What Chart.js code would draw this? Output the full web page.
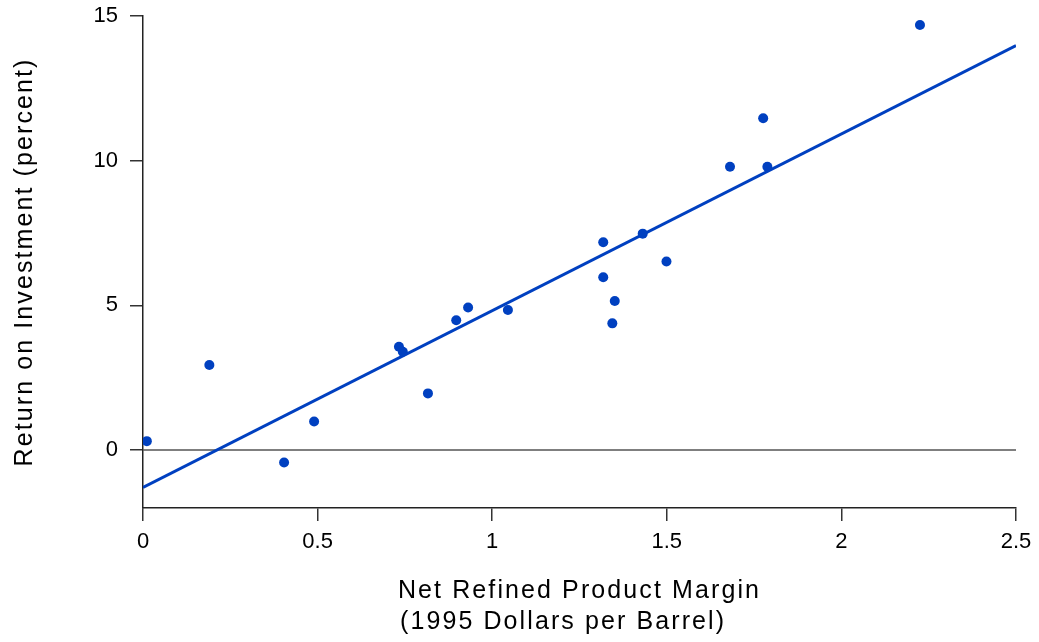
<!DOCTYPE html>
<html>
<head>
<meta charset="utf-8">
<script src="https://cdn.jsdelivr.net/npm/chart.js@4.4.1/dist/chart.umd.min.js"></script>
<style>
  html, body { margin: 0; padding: 0; background: #ffffff; }
  #wrap { width: 1039px; height: 642px; position: relative; }
</style>
</head>
<body>
<div id="wrap"><canvas id="c" width="1039" height="642"></canvas></div>
<script>
// ---- data ----
const marginX = [0.011, 0.19, 0.404, 0.49, 0.733, 0.744, 0.816, 0.897, 0.931, 1.045,
                 1.318, 1.318, 1.351, 1.344, 1.431, 1.499, 1.681, 1.776, 1.788, 2.225];
const returnY = [0.31, 2.94, -0.43, 0.99, 3.57, 3.40, 1.96, 4.49, 4.93, 4.84,
                 7.18, 5.97, 5.15, 4.38, 7.48, 6.52, 9.79, 11.47, 9.79, 14.69];
const fitX = [0, 2.5];
const fitY = [-1.29, 13.98];
const zeroX = [0, 2.5];
const zeroY = [0, 0];
const xTicks = [0, 0.5, 1, 1.5, 2, 2.5];
const yTicks = [0, 5, 10, 15];
const yTitle = 'Return on Investment (percent)';
const xTitle1 = 'Net Refined Product Margin';
const xTitle2 = '(1995 Dollars per Barrel)';

const BLUE = '#0040c0';
const FONT = '"Liberation Sans", Arial, sans-serif';

const toPts = (xs, ys) => xs.map((x, i) => ({ x: x, y: ys[i] }));

const titlesPlugin = {
  id: 'titles',
  afterDraw(chart) {
    const ctx = chart.ctx;
    const a = chart.chartArea;
    ctx.save();
    ctx.fillStyle = '#000';
    ctx.font = '25px ' + FONT;
    try { ctx.letterSpacing = '2.1px'; } catch (e) {}
    ctx.textBaseline = 'alphabetic';
    ctx.textAlign = 'left';
    const cx = (a.left + a.right) / 2;
    const w1 = ctx.measureText(xTitle1).width;
    const start = cx - w1 / 2;
    ctx.fillText(xTitle1, start, a.bottom + 90);
    ctx.fillText(xTitle2, start + 2, a.bottom + 121);
    // y title
    const cy = (a.top + a.bottom) / 2;
    const wy = ctx.measureText(yTitle).width;
    ctx.translate(32, cy);
    ctx.rotate(-Math.PI / 2);
    ctx.fillText(yTitle, -wy / 2, 0);
    ctx.restore();
  }
};

new Chart(document.getElementById('c'), {
  type: 'scatter',
  data: {
    datasets: [
      {
        label: 'data',
        data: toPts(marginX, returnY),
        backgroundColor: BLUE,
        borderColor: BLUE,
        borderWidth: 0,
        pointRadius: 5,
        order: 0
      },
      {
        type: 'line',
        label: 'fit',
        data: toPts(fitX, fitY),
        borderColor: BLUE,
        borderWidth: 3,
        pointRadius: 0,
        fill: false,
        order: 1
      },
      {
        type: 'line',
        label: 'zero',
        data: toPts(zeroX, zeroY),
        borderColor: '#555555',
        borderWidth: 1.5,
        pointRadius: 0,
        fill: false,
        order: 2
      }
    ]
  },
  options: {
    responsive: false,
    animation: false,
    events: [],
    layout: { padding: { top: 16, right: 23, left: 0, bottom: 0 } },
    plugins: { legend: { display: false }, tooltip: { enabled: false }, title: { display: false } },
    scales: {
      x: {
        type: 'linear',
        min: 0, max: 2.5,
        afterBuildTicks: (s) => { s.ticks = xTicks.map(v => ({ value: v })); },
        afterFit: (s) => { s.height = 134; s.paddingLeft = 0; s.paddingRight = 0; },
        ticks: {
          color: '#000',
          font: { family: FONT, size: 22 },
          padding: 8,
          maxRotation: 0,
          autoSkip: false,
          callback: (v) => String(v)
        },
        grid: { display: true, drawOnChartArea: false, drawTicks: true, tickLength: 13, tickColor: '#333', lineWidth: 1.5 },
        border: { display: true, color: '#222', width: 1.5 }
      },
      y: {
        type: 'linear',
        min: -2, max: 15,
        afterBuildTicks: (s) => { s.ticks = yTicks.map(v => ({ value: v })); },
        afterFit: (s) => { s.width = 143; s.paddingTop = 0; s.paddingBottom = 0; },
        ticks: {
          color: '#000',
          font: { family: FONT, size: 22 },
          padding: 12,
          autoSkip: false,
          callback: (v) => String(v)
        },
        grid: { display: true, drawOnChartArea: false, drawTicks: true, tickLength: 13, tickColor: '#333', lineWidth: 1.5 },
        border: { display: true, color: '#222', width: 1.5 }
      }
    }
  },
  plugins: [titlesPlugin]
});
</script>
</body>
</html>
